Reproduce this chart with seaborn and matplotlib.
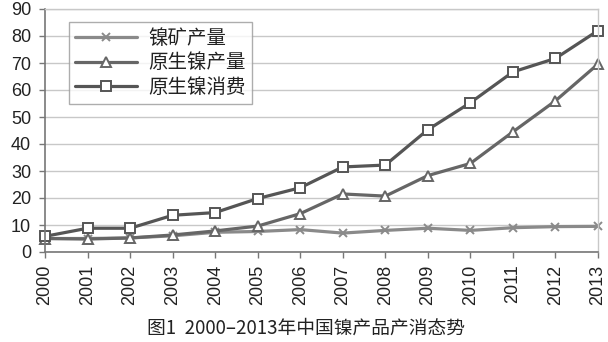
import matplotlib
matplotlib.use("Agg")
import matplotlib.pyplot as plt
import seaborn as sns
import pandas as pd

years = list(range(2000, 2014))
ore_prod = [5.0, 5.0, 5.2, 6.0, 7.3, 7.6, 8.3, 7.0, 8.0, 8.8, 8.0, 9.0, 9.4, 9.5]
primary_prod = [5.0, 4.8, 5.2, 6.3, 7.8, 9.6, 14.2, 21.5, 20.7, 28.3, 32.8, 44.5, 56.0, 69.6]
primary_cons = [5.8, 8.8, 8.8, 13.6, 14.6, 19.8, 23.8, 31.5, 32.2, 45.3, 55.3, 66.7, 71.7, 82.0]
series_names = ["镍矿产量", "原生镍产量", "原生镍消费"]
caption = "图1  2000–2013年中国镍产品产消态势"

series_values = [ore_prod, primary_prod, primary_cons]
colors = ["#8a8a8a", "#666666", "#555555"]
markers = ["x", "^", "s"]
msizes = [6, 7, 7]

sns.set_theme(style="white")
plt.rcParams["font.family"] = ["Noto Sans CJK SC", "DejaVu Sans"]

fig = plt.figure(figsize=(6.08, 3.42), dpi=100)
ax = fig.add_axes([45 / 608, 1 - 252 / 342, (598 - 45) / 608, (252 - 9) / 342])

for name, vals, c, m, ms in zip(series_names, series_values, colors, markers, msizes):
    d = pd.DataFrame({"year": years, "value": vals})
    sns.lineplot(data=d, x="year", y="value", color=c, marker=m, markersize=ms,
                 markerfacecolor="white", markeredgecolor=c, markeredgewidth=1.4,
                 linewidth=2.3, label=name, ax=ax, clip_on=False)

ax.set_xlim(2000, 2013)
ax.set_ylim(0, 90)
ax.set_yticks(range(0, 91, 10))
ax.set_xticks(years)
ax.set_xticklabels([str(y) for y in years], rotation=90)
ax.set_xlabel("")
ax.set_ylabel("")
ax.yaxis.grid(True, color="#c8c8c8", linewidth=1.0)
ax.set_axisbelow(True)
for s in ["top", "right"]:
    ax.spines[s].set_color("#c8c8c8")
    ax.spines[s].set_linewidth(1.0)
for s in ["left", "bottom"]:
    ax.spines[s].set_color("#777777")
    ax.spines[s].set_linewidth(1.2)
ax.tick_params(axis="both", which="both", length=4, width=1, color="#777777",
               labelcolor="#222222", direction="out", left=True, bottom=True)
ax.tick_params(axis="y", pad=6)
ax.tick_params(axis="x", pad=5)
for lab in ax.get_xticklabels() + ax.get_yticklabels():
    lab.set_family(["Liberation Sans", "DejaVu Sans"])
    lab.set_fontsize(13)

leg = ax.legend(loc="upper left", bbox_to_anchor=(24 / 553, 1 - 13 / 243),
                frameon=True, fancybox=False, fontsize=14, handlelength=3.2,
                borderpad=0.3, labelspacing=0.18, handletextpad=0.6,
                borderaxespad=0)
leg.get_frame().set_edgecolor("#999999")
leg.get_frame().set_linewidth(1.0)
for t in leg.get_texts():
    t.set_color("#222222")

fig.text(306 / 608, 1 - 328 / 342, caption, ha="center", va="center", fontsize=13.5,
         color="#222222")

fig.savefig("out.png", dpi=100)
